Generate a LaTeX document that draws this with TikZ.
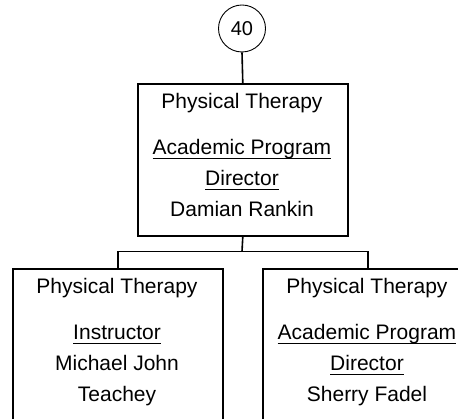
\documentclass[tikz,border=0pt]{standalone}
\usepackage{fontspec}
\setmainfont{Liberation Sans}
\begin{document}
\begin{tikzpicture}[x=1pt,y=-1pt,
  box/.style={draw,line width=1.6pt,minimum width=210pt,minimum height=152pt,anchor=north west,inner sep=0pt},
  txt/.style={inner sep=0pt,anchor=base,font=\fontsize{21}{25}\selectfont},
  conn/.style={line width=1.6pt},
  ulin/.style={line width=1.4pt}]
\useasboundingbox (0,0) rectangle (458,419);
\clip (0,0) rectangle (458,419);
\node[circle,draw,line width=0.9pt,minimum size=47pt,inner sep=0pt,font=\fontsize{20}{24}\selectfont] (c) at (242,28.5) {40};
\node[box] (top) at (137,83) {};
\node[box] (left) at (12,268) {};
\node[box] (right) at (262,268) {};
% top box text
\node[txt] (t1) at (242,109) {Physical Therapy};
\node[txt] (t2) at (242,155) {Academic Program\ };
\node[txt] (t3) at (242,186) {Director};
\node[txt] (t4) at (242,217) {Damian Rankin};
% left box text
\node[txt] (l1) at (117,294) {Physical Therapy};
\node[txt] (l2) at (117,340) {Instructor};
\node[txt] (l3) at (117,371) {Michael John};
\node[txt] (l4) at (117,402) {Teachey};
% right box text
\node[txt] (r1) at (367,294) {Physical Therapy};
\node[txt] (r2) at (367,340) {Academic Program\ };
\node[txt] (r3) at (367,371) {Director};
\node[txt] (r4) at (367,402) {Sherry Fadel};
% underlines
\foreach \n in {t2,t3,l2,r2,r3}
  \draw[ulin] ([yshift=-3.5pt]\n.base west) -- ([yshift=-3.5pt]\n.base east);
% connectors
\coordinate (j) at (242,251.5);
\draw[conn] (c.south) -- (top.north);
\draw[conn] (top.south) -- (j);
\draw[conn] (left.north) |- (j) -| (right.north);
\end{tikzpicture}
\end{document}
